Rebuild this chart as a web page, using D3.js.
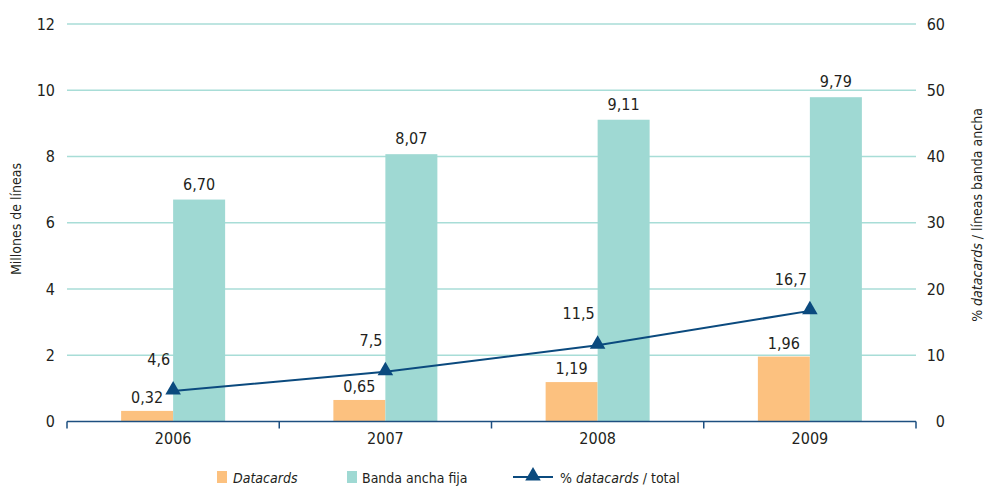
<!DOCTYPE html>
<html>
<head>
<meta charset="utf-8">
<script src="https://cdn.jsdelivr.net/npm/d3@7/dist/d3.min.js"></script>
<style>
  html, body { margin: 0; padding: 0; background: #fff; }
  svg { display: block; }
  text { font-family: "DejaVu Sans Condensed", "DejaVu Sans", sans-serif; font-stretch: condensed; fill: #231f20; }
</style>
</head>
<body>
<svg id="chart" width="985" height="486"></svg>
<script>
const categories = ["2006", "2007", "2008", "2009"];
const datacards = [0.32, 0.65, 1.19, 1.96];
const bandaAncha = [6.70, 8.07, 9.11, 9.79];
const pctDatacards = [4.6, 7.5, 11.5, 16.7];
const leftTicks = [0, 2, 4, 6, 8, 10, 12];
const rightTicks = [0, 10, 20, 30, 40, 50, 60];

const W = 985, H = 486;
const M = { left: 67, right: 916, top: 24, bottom: 421.5 };
const COL_DC = "#fcc17f", COL_BA = "#9fd9d3", COL_LINE = "#0b4a7e", COL_GRID = "#a8ddd7", COL_AXIS = "#1d4f80";
const FS = 16;

const loc = d3.formatLocale({ decimal: ",", thousands: ".", grouping: [3], currency: ["", "€"] });
const f2 = loc.format(".2f"), f1 = loc.format(".1f"), f0 = loc.format("d");

const svg = d3.select("#chart");

const x = d3.scaleBand().domain(categories).range([M.left, M.right]).padding(0);
const bw = x.bandwidth();
const barW = 52;
const x1 = d3.scaleBand().domain(["dc", "ba"]).range([bw / 2 - barW, bw / 2 + barW]).padding(0);
const y = d3.scaleLinear().domain([0, 12]).range([M.bottom, M.top]);
const yR = d3.scaleLinear().domain([0, 60]).range([M.bottom, M.top]);

// gridlines
svg.append("g").selectAll("line").data(leftTicks.filter(d => d > 0)).join("line")
  .attr("x1", M.left).attr("x2", M.right)
  .attr("y1", d => y(d)).attr("y2", d => y(d))
  .attr("stroke", COL_GRID).attr("stroke-width", 1.3);

// left axis labels
const gL = svg.append("g").attr("transform", `translate(${M.left - 12},0)`)
  .call(d3.axisLeft(y).tickValues(leftTicks).tickSize(0).tickFormat(f0));
gL.select(".domain").remove();
gL.selectAll("text").attr("x", 0).attr("font-size", FS).style("font-family", null);

// right axis labels
const gR = svg.append("g").attr("transform", `translate(${945},0)`)
  .call(d3.axisLeft(yR).tickValues(rightTicks).tickSize(0).tickFormat(f0));
gR.select(".domain").remove();
gR.selectAll("text").attr("x", 0).attr("font-size", FS).style("font-family", null);

// bars
const groups = svg.append("g").selectAll("g").data(categories).join("g")
  .attr("transform", d => `translate(${x(d)},0)`);
groups.append("rect")
  .attr("x", x1("dc")).attr("width", x1.bandwidth())
  .attr("y", (d, i) => y(datacards[i])).attr("height", (d, i) => y(0) - y(datacards[i]))
  .attr("fill", COL_DC);
groups.append("rect")
  .attr("x", x1("ba")).attr("width", x1.bandwidth())
  .attr("y", (d, i) => y(bandaAncha[i])).attr("height", (d, i) => y(0) - y(bandaAncha[i]))
  .attr("fill", COL_BA);
groups.append("text")
  .attr("x", x1("dc") + x1.bandwidth() / 2).attr("y", (d, i) => y(datacards[i]) - 8)
  .attr("text-anchor", "middle").attr("font-size", FS)
  .text((d, i) => f2(datacards[i]));
groups.append("text")
  .attr("x", x1("ba") + x1.bandwidth() / 2).attr("y", (d, i) => y(bandaAncha[i]) - 10)
  .attr("text-anchor", "middle").attr("font-size", FS)
  .text((d, i) => f2(bandaAncha[i]));

// bottom axis
const gB = svg.append("g").attr("transform", `translate(0,${M.bottom})`);
gB.append("line").attr("x1", M.left).attr("x2", M.right).attr("y1", 0).attr("y2", 0)
  .attr("stroke", COL_AXIS).attr("stroke-width", 1.5);
const bounds = categories.map(c => x(c)).concat([x(categories[categories.length - 1]) + bw]);
gB.selectAll("line.tk").data(bounds).join("line").attr("class", "tk")
  .attr("x1", d => d).attr("x2", d => d).attr("y1", 0).attr("y2", 7)
  .attr("stroke", COL_AXIS).attr("stroke-width", 1.5);
const gBx = svg.append("g").attr("transform", `translate(0,${M.bottom + 5})`)
  .call(d3.axisBottom(x).tickSize(0));
gBx.select(".domain").remove();
gBx.selectAll("text").attr("font-size", FS).attr("dy", "0.9em").style("font-family", null);

// line
const cx = c => x(c) + bw / 2;
const line = d3.line().x((d, i) => cx(categories[i])).y(d => yR(d));
svg.append("path").datum(pctDatacards).attr("d", line)
  .attr("fill", "none").attr("stroke", COL_LINE).attr("stroke-width", 2);
const tri = d3.symbol(d3.symbolTriangle, 105);
svg.append("g").selectAll("path").data(pctDatacards).join("path")
  .attr("d", tri)
  .attr("transform", (d, i) => `translate(${cx(categories[i])},${yR(d) - 1})`)
  .attr("fill", COL_LINE);
svg.append("g").selectAll("text").data(pctDatacards).join("text")
  .attr("x", (d, i) => cx(categories[i]) - 3)
  .attr("y", d => yR(d) - 26)
  .attr("text-anchor", "end").attr("font-size", FS)
  .text(d => f1(d));

// axis titles
svg.append("text").attr("transform", "translate(21,219) rotate(-90)")
  .attr("text-anchor", "middle").attr("font-size", 14).text("Millones de líneas");
const rt = svg.append("text").attr("transform", "translate(982,215) rotate(-90)")
  .attr("text-anchor", "middle").attr("font-size", 14);
rt.append("tspan").text("% ");
rt.append("tspan").attr("font-style", "italic").text("datacards");
rt.append("tspan").text(" / líneas banda ancha");

// legend
const LFS = 14;
const lg = svg.append("g").attr("transform", "translate(0,477)");
lg.append("rect").attr("x", 217).attr("y", -6).attr("width", 10).attr("height", 12).attr("fill", COL_DC);
lg.append("text").attr("x", 233).attr("y", 5.5).attr("font-size", LFS).attr("font-style", "italic").text("Datacards");
lg.append("rect").attr("x", 347).attr("y", -6).attr("width", 10).attr("height", 12).attr("fill", COL_BA);
lg.append("text").attr("x", 362).attr("y", 5.5).attr("font-size", LFS).text("Banda ancha fija");
lg.append("line").attr("x1", 513).attr("x2", 553).attr("y1", 0).attr("y2", 0).attr("stroke", COL_LINE).attr("stroke-width", 2);
lg.append("path").attr("d", tri).attr("transform", "translate(533,-1)").attr("fill", COL_LINE);
const lt = lg.append("text").attr("x", 560).attr("y", 5.5).attr("font-size", LFS);
lt.append("tspan").text("% ");
lt.append("tspan").attr("font-style", "italic").text("datacards");
lt.append("tspan").text(" / total");
</script>
</body>
</html>
